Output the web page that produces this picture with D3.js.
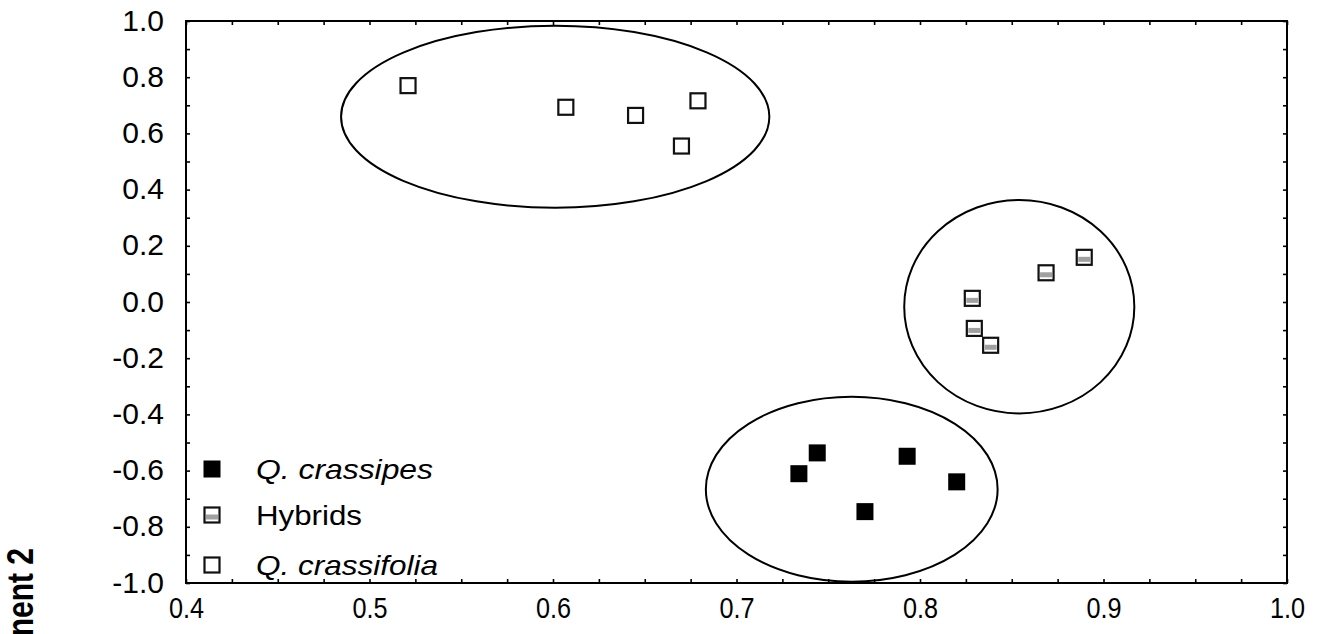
<!DOCTYPE html>
<html><head><meta charset="utf-8">
<script src="https://cdn.jsdelivr.net/npm/d3@7"></script>
<style>body{margin:0;background:#fff}svg{display:block}text{font-family:"Liberation Sans",Arial,sans-serif;fill:#000}</style>
</head><body><svg id="c" width="1321" height="634"></svg>
<script>
// ---- data ----
const crassipesX = [0.744, 0.734, 0.793, 0.820, 0.770];
const crassipesY = [-0.537, -0.611, -0.549, -0.640, -0.746];
const hybridsX = [0.8285, 0.8296, 0.8385, 0.8687, 0.8895];
const hybridsY = [0.013, -0.094, -0.154, 0.104, 0.159];
const crassifoliaX = [0.521, 0.607, 0.645, 0.679, 0.670];
const crassifoliaY = [0.770, 0.693, 0.664, 0.716, 0.555];
const ellipseCX = [0.6012, 0.8541, 0.7628];
const ellipseCY = [0.6594, -0.0167, -0.6662];
const ellipseRX = [0.1167, 0.0627, 0.0795];
const ellipseRY = [0.3238, 0.3797, 0.3292];
const xTickLabels = [0.4, 0.5, 0.6, 0.7, 0.8, 0.9, 1.0];
const yTickLabels = [1.0, 0.8, 0.6, 0.4, 0.2, 0.0, -0.2, -0.4, -0.6, -0.8, -1.0];
const legendLabels = ["Q. crassipes", "Hybrids", "Q. crassifolia"];
const yTitle = "Component 2";

const svg = d3.select("#c");
const L = 186, R = 1287, T = 21, B = 583;
const x = d3.scaleLinear().domain([0.4, 1.0]).range([L, R]);
const y = d3.scaleLinear().domain([-1.0, 1.0]).range([B, T]);
const fmt = d => (Math.abs(d) < 1e-9 ? 0 : d).toFixed(1);
const xMinor = d3.range(0, 25).map(i => +(0.4 + i * 0.025).toFixed(3));
const yMinor = d3.range(0, 21).map(i => +(-1 + i * 0.1).toFixed(2));

// ellipses
const ell = ellipseCX.map((c, i) => ({cx: c, cy: ellipseCY[i], rx: ellipseRX[i], ry: ellipseRY[i]}));
svg.append("g").selectAll("ellipse").data(ell).join("ellipse")
  .attr("cx", d => x(d.cx)).attr("cy", d => y(d.cy))
  .attr("rx", d => x(d.cx + d.rx) - x(d.cx)).attr("ry", d => y(d.cy) - y(d.cy + d.ry))
  .attr("fill", "none").attr("stroke", "#000").attr("stroke-width", 2);

// minor ticks (inward), all four sides
function clean(g){ g.select(".domain").remove(); g.selectAll("line").attr("stroke","#000").attr("stroke-width",1.6); }
svg.append("g").attr("transform", `translate(0,${B})`)
  .call(d3.axisBottom(x).tickValues(xMinor).tickSize(-4).tickFormat("")).call(clean);
svg.append("g").attr("transform", `translate(0,${T})`)
  .call(d3.axisTop(x).tickValues(xMinor).tickSize(-4).tickFormat("")).call(clean);
svg.append("g").attr("transform", `translate(${L},0)`)
  .call(d3.axisLeft(y).tickValues(yMinor).tickSize(-4).tickFormat("")).call(clean);
svg.append("g").attr("transform", `translate(${R},0)`)
  .call(d3.axisRight(y).tickValues(yMinor).tickSize(-4).tickFormat("")).call(clean);

// tick labels
const xl = svg.append("g").attr("transform", `translate(0,${B})`)
  .call(d3.axisBottom(x).tickValues(xTickLabels).tickSize(0).tickPadding(14).tickFormat(fmt));
xl.select(".domain").remove();
xl.selectAll(".tick text").attr("font-size", 29).attr("font-family", '"Liberation Sans",Arial,sans-serif').attr("fill","#000")
  .attr("transform", "scale(0.87,1)");

const yl = svg.append("g").attr("transform", `translate(${L},0)`)
  .call(d3.axisLeft(y).tickValues(yTickLabels).tickSize(0).tickPadding(22).tickFormat(fmt));
yl.select(".domain").remove();
yl.selectAll(".tick text").attr("font-size", 30).attr("font-family", '"Liberation Sans",Arial,sans-serif').attr("fill","#000")
  .attr("dy", "0.3em");

// frame
svg.append("rect").attr("x", L).attr("y", T).attr("width", R - L).attr("height", B - T)
  .attr("fill", "none").attr("stroke", "#000").attr("stroke-width", 2);

// markers
const S = 15;
function openSq(g, cx, cy, hybrid){
  g.append("rect").attr("x", cx - S/2).attr("y", cy - S/2).attr("width", S).attr("height", S)
    .attr("fill", "#fff").attr("stroke", "#111").attr("stroke-width", 2.2);
  if (hybrid){
    g.append("rect").attr("x", cx - S/2 + 1.5).attr("y", cy - 0.5).attr("width", S - 3).attr("height", 5)
      .attr("fill", "#a0a0a0");
  }
}
function fillSq(g, cx, cy){
  g.append("rect").attr("x", cx - 8.5).attr("y", cy - 8.5).attr("width", 17).attr("height", 17).attr("fill", "#000");
}
const gm = svg.append("g");
crassifoliaX.forEach((v, i) => openSq(gm, x(v), y(crassifoliaY[i]), false));
hybridsX.forEach((v, i) => openSq(gm, x(v), y(hybridsY[i]), true));
crassipesX.forEach((v, i) => fillSq(gm, x(v), y(crassipesY[i])));

// legend
const lg = svg.append("g");
const legY = [469, 515, 565];
const legW = [177, 106, 182];
fillSq(lg, 212, legY[0]);
openSq(lg, 212, legY[1], true);
openSq(lg, 212, legY[2], false);
legendLabels.forEach((t, i) => {
  lg.append("text").attr("x", 256).attr("y", legY[i] + 10).attr("font-size", 28)
    .attr("font-style", i === 1 ? "normal" : "italic")
    .attr("textLength", legW[i]).attr("lengthAdjust", "spacingAndGlyphs").text(t);
});

// y title (cut off at bottom edge, as in the reference)
svg.append("text").attr("transform", "translate(33,548) scale(1.2,1) rotate(-90)")
  .attr("text-anchor", "end").attr("font-size", 30).attr("font-weight", "bold").text(yTitle);
</script></body></html>
